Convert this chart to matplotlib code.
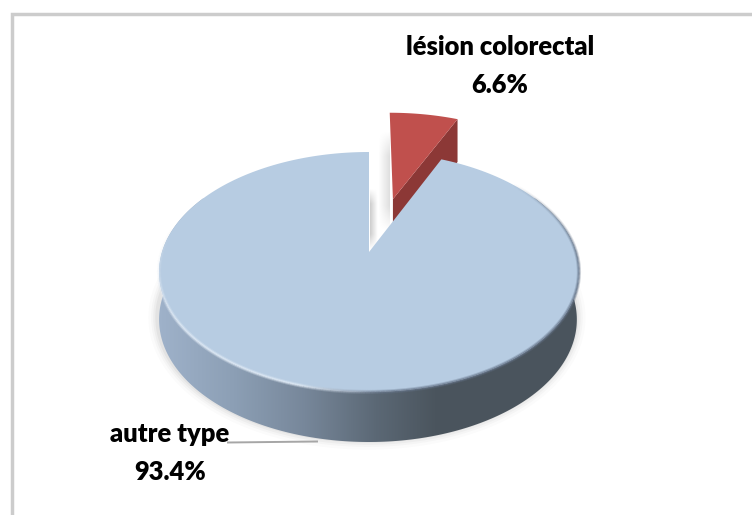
import numpy as np
import matplotlib
matplotlib.use('Agg')
import matplotlib.pyplot as plt
from matplotlib.collections import LineCollection
from matplotlib.colors import to_rgb
from matplotlib.patches import Polygon

plt.rcParams['font.family'] = ['Lato', 'DejaVu Sans']

# pie values (percent)
labels = ['lésion colorectal', 'autre type']
values = [6.6, 93.4]

# projected disc: centre, radius, perspective strength
cx, cy = 369, 252
bx, ay = 207, 116.67
k = 1/6
explode = (0.125, -0.49)

def project(u, v):
  w = 1 - k*v
  return cx + bx*u/w, cy + ay*v/w

def thickness(v):
  return 47 + 3*v

def rimAngles(a0, a1, n=240):
  # angles in degrees, clockwise from twelve o'clock
  return np.deg2rad(np.linspace(a0, a1, n))

def topRim(t, du=0, dv=0):
  return project(np.sin(t) + du, -np.cos(t) + dv)

def lowerRim(t, du=0, dv=0):
  v = -np.cos(t) + dv
  x, y = project(np.sin(t) + du, v)
  # the wall narrows slightly on the right side only
  return np.where(x > cx, cx + (x - cx)*0.99, x), y + thickness(v)

def sliceFace(a0, a1, du=0, dv=0):
  x, y = topRim(rimAngles(a0, a1), du, dv)
  ax0, ay0 = project(du, dv)
  return np.column_stack([np.r_[ax0, x], np.r_[ay0, y]])

def fadeLine(ax, x, y, colors, lw, zorder):
  pts = np.column_stack([x, y]).reshape(-1, 1, 2)
  segs = np.concatenate([pts[:-1], pts[1:]], axis=1)
  ax.add_collection(LineCollection(segs, colors=colors, linewidths=lw, zorder=zorder, capstyle='butt'))

def shadeBox(ax, x0, x1, y0, y1, alphaLeft, alphaRight, zorder):
  # black box with a horizontal alpha ramp, faded at top and bottom
  ramp = np.linspace(alphaLeft, alphaRight, 24)
  fade = np.clip(np.minimum(np.linspace(0, 4, 60), np.linspace(4, 0, 60)), 0, 1)
  img = np.zeros((60, 24, 4))
  img[:, :, 3] = fade[:, None]*ramp[None, :]
  ax.imshow(img, extent=(x0, x1, y1, y0), aspect='auto', zorder=zorder, interpolation='bilinear')

fig = plt.figure(figsize=(7.52, 5.15), dpi=100)
ax = fig.add_axes([0, 0, 1, 1])
ax.axis('off')

# chart frame
ax.plot([12, 12, 752], [515, 13.5, 13.5], color='#cccccc', lw=2.5, zorder=1, solid_joinstyle='miter')

split = 360*values[0]/sum(values)

# soft shadow under the wall
tFront = rimAngles(60, 300)
sx, sy = lowerRim(tFront)
for lw, a in [(14, 0.015), (10, 0.025), (7, 0.03), (4, 0.04)]:
  ax.plot(sx - 1, sy - 2, color='black', alpha=a, lw=lw, zorder=2, solid_capstyle='butt')

# shadow inside the gap between the two slices
shadeBox(ax, 378, 389.5, 130, 232, 0.0, 0.13, 2)
shadeBox(ax, 370, 378, 188, 250, 0.2, 0.0, 2)

# exploded slice: cut face first, then the top
du, dv = explode
xa, ya = project(du, dv)
xe, ye = topRim(np.deg2rad(split), du, dv)
cut = [(xa, ya), (xe, ye), (xe, ye + thickness(-1.4)), (xa, ya + thickness(-0.5))]
ax.add_patch(Polygon(cut, closed=True, fc='#8c3836', ec='none', zorder=3))
ax.add_patch(Polygon(sliceFace(0, split, du, dv), closed=True, fc='#c0504d', ec='none', zorder=4))

# wall of the big slice with a left to right gradient
tx, ty = topRim(tFront)
wall = Polygon(np.column_stack([np.r_[tx, sx[::-1]], np.r_[ty, sy[::-1]]]), closed=True, fc='none', ec='none', zorder=5)
ax.add_patch(wall)
stops = np.array([0, 0.18, 0.35, 0.52, 0.66, 1])
rgb = np.array([to_rgb(c) for c in ['#9fb2ca', '#8c9fb5', '#77879a', '#5b6875', '#4b555e', '#4a545d']])
g = np.linspace(0, 1, 420)
grad = np.column_stack([np.interp(g, stops, rgb[:, i]) for i in range(3)])[None, :, :]
im = ax.imshow(grad, extent=(158, 578, 515, 0), aspect='auto', zorder=5, interpolation='bilinear')
im.set_clip_path(wall)
ax.set_xlim(0, 752)
ax.set_ylim(515, 0)

# big slice top face
ax.add_patch(Polygon(sliceFace(split, 360), closed=True, fc='#b7cce2', ec='none', zorder=6))

# bevel along the rim: light on the left, dark on the right, fading at both ends
tBevel = rimAngles(50, 282, 400)
bx0, by0 = topRim(tBevel)
frac = np.clip((bx0[:-1] - 158)/420, 0, 1)
light = np.array(to_rgb('#e2ecf7'))
dark = np.array(to_rgb('#66758a'))
mix = np.clip((frac - 0.34)/0.2, 0, 1)[:, None]
ends = np.clip(np.minimum(np.linspace(0, 5, 399), np.linspace(5, 0, 399)), 0, 1)
for lw, a in [(3.0, 0.3), (1.6, 0.6)]:
  fadeLine(ax, bx0, by0, np.hstack([light*(1 - mix) + dark*mix, (ends*a)[:, None]]), lw, 7)

# value labels
textStyle = dict(ha='center', va='center', fontsize=18.4, fontweight='heavy', color='black', zorder=8)
ax.text(500.5, 47, labels[0], **textStyle)
ax.text(500, 85, f'{values[0]}%', **textStyle)
ax.text(170, 434, labels[1], **textStyle)
ax.text(170.5, 472, f'{values[1]}%', **textStyle)

# leader line of the big slice
ax.plot([228, 317], [442.5, 441.5], color='#a6a6a6', lw=1.4, zorder=8)

fig.savefig('out.png', dpi=100)
